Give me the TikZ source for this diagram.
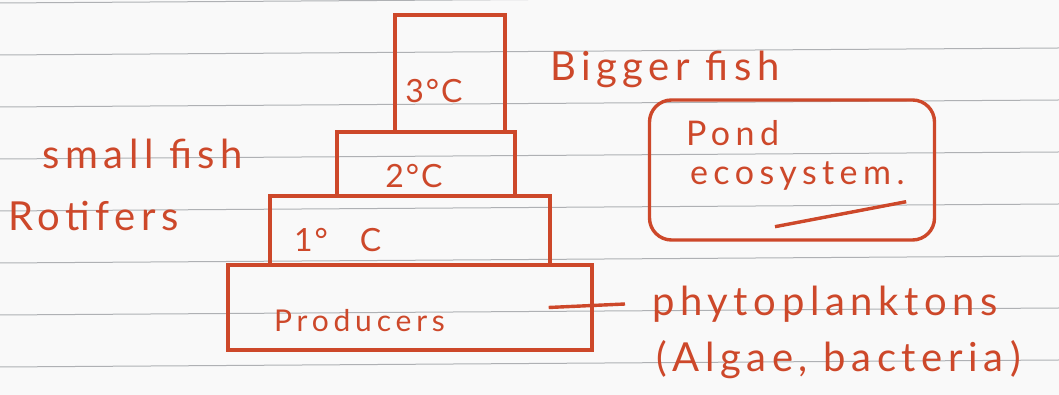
\documentclass[tikz,border=0pt]{standalone}
\usepackage{fontspec}
\setmainfont{Lato}
\usepackage{xcolor}
\usetikzlibrary{positioning}
\definecolor{ink}{RGB}{205,72,42}
\definecolor{rule}{RGB}{175,177,180}
\tikzset{
  tier/.style={draw=ink, line width=3.4pt, inner sep=0pt},
  tierlbl/.style={text=ink, inner sep=0pt, font=\fontsize{32}{34}\selectfont\addfontfeature{LetterSpace=6}},
  hand/.style={text=ink, inner sep=0pt, font=\fontsize{40}{42}\selectfont\addfontfeature{LetterSpace=14}},
  pondlbl/.style={text=ink, inner sep=0pt, font=\fontsize{34}{36}\selectfont\addfontfeature{LetterSpace=16}},
  handsmall/.style={text=ink, inner sep=0pt, font=\fontsize{30}{32}\selectfont\addfontfeature{LetterSpace=16}},
}
\begin{document}
\begin{tikzpicture}[x=1pt,y=1pt]
				\useasboundingbox (0,0) rectangle (1059,395);
				\fill[white!95!gray] (0,0) rectangle (1059,395);
				
				% ruled paper lines
				\foreach \ly in {392,340,288,236,184,132,80,28}
				\draw[rule, line width=1pt] (0,\ly) -- (1059,\ly+7);
				
				% Producers - base
				\node[tier, minimum width=364pt, minimum height=85pt] (prod) at (410,87.5) {};
				\node[handsmall, anchor=west] (prodtxt) at (274,74) {Producers};
				
				% Primary consumers
				\node[tier, minimum width=280pt, minimum height=69pt] (cone) at (410,164.5) {};
				\node[tierlbl, anchor=west] (conetxt) at (294,155) {1°\quad C};
				
				% Secondary consumers
				\node[tier, minimum width=178pt, minimum height=64pt] (ctwo) at (426,231) {};
				\node[tierlbl] (ctwotxt) at (414,219) {2°C};
				
				% Tertiary consumers - top
				\node[tier, minimum width=110pt, minimum height=117pt] (cthree) at (450,321.5) {};
				\node[tierlbl] (cthreetxt) at (434,304) {3°C};
				
				% Side labels
				\node[hand, anchor=west] (bigfish) at (550,326) {Bigger fish};
				\node[hand, anchor=west] (smallfish) at (42,241) {small fish};
				\node[hand, anchor=west] (rotifers) at (8,179) {Rotifers};
				
				% Title box
				\node[draw=ink, line width=3.4pt, rounded corners=22pt, minimum width=285pt, minimum height=140pt] (pond) at (792,225) {};
				\node[pondlbl, align=left, anchor=north west] (pondtxt) at ([xshift=38pt,yshift=-22pt]pond.north west) {Pond\\[3pt]\hspace*{4pt}ecosystem.};
				\draw[ink, line width=3.4pt] ([xshift=-17pt,yshift=15pt]pond.south) -- ([xshift=-30pt,yshift=40pt]pond.south east);
				
				% Producers note
				\node[hand, anchor=west] (phyto) at (652,91) {phytoplanktons};
				\node[hand, anchor=west] (algae) at (656,35) {(Algae,\ bacteria\,)};
				\coordinate (tick) at ([xshift=-45pt]prod.east);
				\draw[ink, line width=3.4pt] (tick) -- ([xshift=-27pt]phyto.west);
\end{tikzpicture}
\end{document}
